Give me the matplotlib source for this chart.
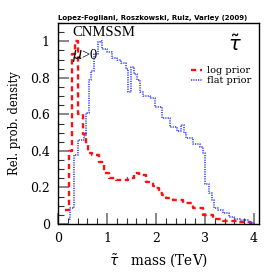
import matplotlib
matplotlib.use("Agg")
import matplotlib.pyplot as plt
from matplotlib.ticker import MultipleLocator, FixedLocator

# log prior (red dashed), step histogram: left edges and values
log_x = [0.15, 0.22, 0.28, 0.35, 0.41, 0.51, 0.57, 0.62, 0.70, 0.84, 0.94, 1.05, 1.19, 1.29, 1.42,
         1.56, 1.66, 1.80, 1.93, 2.00, 2.07, 2.13, 2.20, 2.34, 2.54, 2.75, 2.95, 3.16, 3.36, 3.65, 3.92, 4.0]
log_y = [0.077, 0.40, 0.93, 1.0, 0.60, 0.49, 0.43, 0.39, 0.377, 0.34, 0.28, 0.25, 0.24, 0.24, 0.25,
         0.28, 0.27, 0.23, 0.21, 0.197, 0.17, 0.16, 0.14, 0.13, 0.115, 0.087, 0.05, 0.026, 0.016, 0.01, 0.005, 0.0]

# flat prior (blue dotted)
flat_x = [0.22, 0.25, 0.33, 0.41, 0.53, 0.58, 0.63, 0.68, 0.73, 0.81, 0.86, 0.90, 1.00, 1.11, 1.21,
          1.29, 1.39, 1.43, 1.49, 1.56, 1.62, 1.68, 1.74, 1.87, 1.97, 2.13, 2.28, 2.42, 2.50, 2.56,
          2.62, 2.75, 2.89, 2.95, 3.00, 3.08, 3.14, 3.18, 3.26, 3.36, 3.49, 3.59, 3.72, 3.87, 3.94, 4.0]
flat_y = [0.03, 0.09, 0.377, 0.46, 0.48, 0.61, 0.79, 0.84, 0.93, 0.995, 1.0, 0.96, 0.94, 0.91, 0.90,
          0.88, 0.85, 0.72, 0.86, 0.82, 0.79, 0.72, 0.70, 0.69, 0.64, 0.58, 0.53, 0.51, 0.54, 0.50,
          0.47, 0.44, 0.42, 0.39, 0.22, 0.17, 0.13, 0.09, 0.077, 0.06, 0.04, 0.03, 0.02, 0.01, 0.005, 0.0]

y_ticks = [0, 0.2, 0.4, 0.6, 0.8, 1.0]
y_ticklabels = ["0", "0.2", "0.4", "0.6", "0.8", "1"]
x_ticks = [0, 1, 2, 3, 4]

fig = plt.figure(figsize=(2.74, 2.74), dpi=100)
ax = fig.add_axes([58/274, 50/274, 201/274, 201/274])

ax.plot(log_x, log_y, drawstyle="steps-post", color="#ff1010", ls=(0, (2.2, 1.6)), lw=1.7)
ax.plot(flat_x, flat_y, drawstyle="steps-post", color="#3344ff", ls=(0, (0.7, 0.7)), lw=1.2)

ax.set_xlim(0, 4.1)
ax.set_ylim(0, 1.1)

ax.xaxis.set_major_locator(FixedLocator(x_ticks))
ax.xaxis.set_minor_locator(MultipleLocator(0.2))
ax.yaxis.set_major_locator(FixedLocator(y_ticks))
ax.set_yticklabels(y_ticklabels)
ax.yaxis.set_minor_locator(MultipleLocator(0.05))
ax.tick_params(which="both", direction="in", top=False, right=False)
ax.tick_params(which="major", length=8, width=1.2, color="0.45", labelsize=9, pad=6)
ax.tick_params(which="minor", length=4, width=0.8, color="0.2")
for lab in ax.get_xticklabels() + ax.get_yticklabels():
    lab.set_family("DejaVu Serif")
for s in ax.spines.values():
    s.set_linewidth(1.0)

ax.set_xlabel(r"$\tilde{\tau}$   mass (TeV)", family="DejaVu Serif", fontsize=9.8, labelpad=4)
ax.set_ylabel("Rel. prob. density", family="DejaVu Serif", fontsize=8.3, labelpad=6)

ax.text(0.0, 1.012, "Lopez-Fogliani, Roszkowski, Ruiz, Varley (2009)", transform=ax.transAxes,
        fontsize=5.0, fontweight="bold", family="DejaVu Sans", ha="left", va="bottom")
ax.text(0.07, 0.985, "CNMSSM", transform=ax.transAxes, fontsize=10.5, family="Liberation Serif",
        ha="left", va="top")
ax.text(0.07, 0.88, r"$\mu$>0", transform=ax.transAxes, fontsize=10.5, family="Liberation Serif",
        ha="left", va="top")
ax.text(0.88, 0.89, r"$\tilde{\tau}$", transform=ax.transAxes, fontsize=14, ha="center", va="center")

leg = ax.legend(["log prior", "flat prior"], loc="upper right", bbox_to_anchor=(0.99, 0.815),
                frameon=False, handlelength=1.1, handletextpad=0.5,
                labelspacing=0.1, borderpad=0.1, prop={"family": "DejaVu Serif", "size": 7})

fig.savefig("out.png", dpi=100)
